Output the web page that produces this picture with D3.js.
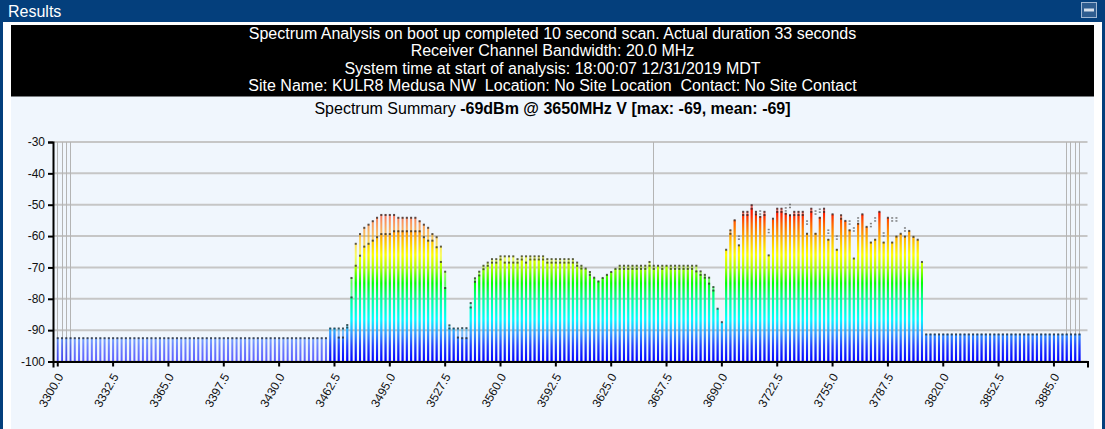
<!DOCTYPE html>
<html><head><meta charset="utf-8">
<script src="https://cdn.jsdelivr.net/npm/d3@7/dist/d3.min.js"></script>
<style>
html,body{margin:0;padding:0;background:#043f7c;}
svg{display:block;font-family:"Liberation Sans",Arial,Helvetica,sans-serif;}
</style>
</head><body>
<svg id="c" width="1105" height="429"></svg>
<script>
// ---------------- DATA ----------------
const freqs = [
 3300,3302.5,3305,3307.5,3310,3312.5,3315,3317.5,3320,3322.5,
 3325,3327.5,3330,3332.5,3335,3337.5,3340,3342.5,3345,3347.5,
 3350,3352.5,3355,3357.5,3360,3362.5,3365,3367.5,3370,3372.5,
 3375,3377.5,3380,3382.5,3385,3387.5,3390,3392.5,3395,3397.5,
 3400,3402.5,3405,3407.5,3410,3412.5,3415,3417.5,3420,3422.5,
 3425,3427.5,3430,3432.5,3435,3437.5,3440,3442.5,3445,3447.5,
 3450,3452.5,3455,3457.5,
 3460,3462.5,3465,3467.5,3470,3472.5,3475,3477.5,3480,3482.5,
 3485,3487.5,3490,3492.5,3495,3497.5,3500,3502.5,3505,3507.5,
 3510,3512.5,3515,3517.5,3520,3522.5,3525,3527.5,3530,3532.5,
 3535,3537.5,3540,3542.5,3545,3547.5,3550,3552.5,3555,3557.5,
 3560,3562.5,3565,3567.5,3570,3572.5,3575,3577.5,3580,3582.5,
 3585,3587.5,3590,3592.5,3595,3597.5,3600,3602.5,3605,3607.5,
 3610,3612.5,3615,3617.5,3620,3622.5,3625,3627.5,3630,3632.5,
 3635,3637.5,3640,3642.5,3645,3647.5,3650,3652.5,3655,3657.5,
 3660,3662.5,3665,3667.5,3670,3672.5,3675,3677.5,3680,3682.5,
 3685,3687.5,3690,3692.5,3695,3697.5,3700,3702.5,3705,3707.5,
 3710,3712.5,3715,3717.5,3720,3722.5,3725,3727.5,3730,3732.5,
 3735,3737.5,3740,3742.5,3745,3747.5,3750,3752.5,3755,3757.5,
 3760,3762.5,3765,3767.5,3770,3772.5,3775,3777.5,3780,3782.5,
 3785,3787.5,3790,3792.5,3795,3797.5,3800,3802.5,3805,3807.5,
 3810,3812.5,3815,3817.5,3820,3822.5,3825,3827.5,3830,3832.5,
 3835,3837.5,3840,3842.5,3845,3847.5,3850,3852.5,3855,3857.5,
 3860,3862.5,3865,3867.5,3870,3872.5,3875,3877.5,3880,3882.5,
 3885,3887.5,3890,3892.5,3895,3897.5,3900
];

// max-hold level per bin (dBm)
const maxVals = [
 -92.4,-92.4,-92.4,-92.4,-92.4,-92.4,-92.4,-92.4,-92.4,-92.4,
 -92.4,-92.4,-92.4,-92.4,-92.4,-92.4,-92.4,-92.4,-92.4,-92.4,
 -92.4,-92.4,-92.4,-92.4,-92.4,-92.4,-92.4,-92.4,-92.4,-92.4,
 -92.4,-92.4,-92.4,-92.4,-92.4,-92.4,-92.4,-92.4,-92.4,-92.4,
 -92.4,-92.4,-92.4,-92.4,-92.4,-92.4,-92.4,-92.4,-92.4,-92.4,
 -92.4,-92.4,-92.4,-92.4,-92.4,-92.4,-92.4,-92.4,-92.4,-92.4,
 -92.4,-92.4,-92.4,-92.4,
 -89.3,-89.3,-89.3,-89.3,-88.2,-73.2,-62.3,-59.2,-57.2,-56.2,
 -55.1,-54.0,-53.1,-53.1,-53.1,-53.1,-54.0,-54.0,-54.0,-54.0,
 -54.0,-55.1,-56.2,-57.2,-59.2,-60.2,-63.2,-71.2,-88.3,-89.3,
 -89.3,-89.2,-89.2,-81.2,-73.3,-71.2,-69.3,-68.3,-67.2,-67.2,
 -66.3,-66.3,-66.3,-66.3,-67.2,-66.3,-66.3,-66.3,-66.3,-66.3,
 -66.3,-67.2,-67.2,-67.2,-67.2,-67.2,-67.2,-67.2,-68.3,-69.3,
 -70.2,-71.3,-73.1,-74.3,-73.2,-72.2,-71.3,-70.3,-69.3,-69.3,
 -69.3,-69.3,-69.3,-69.3,-69.3,-68.1,-69.3,-69.3,-69.3,-69.3,
 -69.3,-69.3,-69.3,-69.3,-69.3,-69.3,-69.3,-71.1,-72.2,-73.1,
 -76.1,-83.0,-87.3,-64.2,-58.0,-54.8,-62.8,-52.1,-52.1,-50.0,
 -52.1,-53.7,-52.1,-66.0,-54.3,-51.1,-51.1,-52.7,-53.2,-52.1,
 -52.1,-52.1,-59.1,-51.1,-59.1,-54.0,-51.1,-61.0,-52.9,-64.2,
 -53.2,-55.0,-58.0,-67.0,-55.9,-52.9,-56.9,-61.9,-61.0,-52.1,
 -61.9,-54.0,-61.9,-60.0,-59.1,-60.0,-58.2,-60.1,-61.0,-68.1,
 -91.2,-91.2,-91.2,-91.2,-91.2,-91.2,-91.2,-91.2,-91.2,-91.2,
 -91.2,-91.2,-91.2,-91.2,-91.2,-91.2,-91.2,-91.2,-91.2,-91.2,
 -91.2,-91.2,-91.2,-91.2,-91.2,-91.2,-91.2,-91.2,-91.2,-91.2,
 -91.2,-91.2,-91.2,-91.2,-91.2,-91.2,-91.2
];

// current / mean level per bin (dBm); null = no current sweep
const meanVals = [
 null,null,null,null,null,null,null,null,null,null,
 null,null,null,null,null,null,null,null,null,null,
 null,null,null,null,null,null,null,null,null,null,
 null,null,null,null,null,null,null,null,null,null,
 null,null,null,null,null,null,null,null,null,null,
 null,null,null,null,null,null,null,null,null,null,
 null,null,null,null,
 -89.3,-89.3,-92.2,-92.2,-89.0,-79.4,-69.3,-66.1,-63.2,-62.3,
 -61.3,-60.2,-59.2,-59.2,-59.2,-58.3,-58.3,-58.3,-58.3,-58.3,
 -58.3,-58.3,-60.2,-61.3,-61.3,-63.4,-68.1,-76.4,-89.3,-89.3,
 -92.2,-92.4,-92.4,-82.6,-74.4,-72.4,-70.4,-69.3,-68.3,-68.3,
 -67.3,-68.3,-68.3,-68.3,-68.3,-67.3,-68.3,-67.3,-67.3,-67.3,
 -67.3,-68.3,-68.3,-68.3,-68.3,-68.3,-68.3,-68.3,-69.3,-70.2,
 -70.5,-72.2,-73.3,-74.5,-73.4,-72.4,-71.5,-70.5,-70.3,-70.3,
 -70.3,-70.3,-70.3,-70.3,-70.3,-69.3,-70.3,-69.5,-70.3,-69.5,
 -70.3,-70.3,-70.3,-70.3,-70.3,-70.3,-71.1,-72.2,-73.1,-75.0,
 -77.2,-83.2,-87.6,-64.4,-59.1,-55.0,-62.8,-53.1,-53.1,-51.1,
 -52.9,-53.7,-53.1,-66.0,-54.8,-52.1,-52.1,-52.7,-53.2,-53.1,
 -53.1,-53.1,-59.1,-52.1,-59.1,-54.0,-52.1,-61.0,-53.2,-64.2,
 -54.3,-55.3,-58.0,-67.0,-55.9,-53.2,-57.2,-61.9,-61.0,-52.4,
 -61.9,-54.3,-61.9,-60.0,-59.4,-60.0,-58.5,-60.4,-61.3,-68.4,
 -91.2,-91.2,-91.2,-91.2,-91.2,-91.2,-91.2,-91.2,-91.2,-91.2,
 -91.2,-91.2,-91.2,-91.2,-91.2,-91.2,-91.2,-91.2,-91.2,-91.2,
 -91.2,-91.2,-91.2,-91.2,-91.2,-91.2,-91.2,-91.2,-91.2,-91.2,
 -91.2,-91.2,-91.2,-91.2,-91.2,-91.2,-91.2
];

// isolated peak markers (grey) above the current bars
const peakFreqs  = [3700,3712.5,3717.5,3727.5,3730,3740,3745,3747.5,3752.5,3757.5,
                    3765,3767.5,3770,3777.5,3780,3785,3790,3792.5,3797.5];
const peakLevels = [-60.1,-52.1,-58.0,-51.1,-50.0,-55.3,-52.1,-51.5,-58.2,-60.1,
                    -55.3,-57.5,-54.3,-56.1,-54.3,-59.1,-54.3,-54.3,-57.5];

const yTicks = [-30,-40,-50,-60,-70,-80,-90,-100];
const xTicks = [3300,3332.5,3365,3397.5,3430,3462.5,3495,3527.5,3560,3592.5,
                3625,3657.5,3690,3722.5,3755,3787.5,3820,3852.5,3885];
const markerFreqs = [3300,3302.5,3305,3307.5,3650,3892.5,3895,3897.5,3900];
const headerLines = [
 "Spectrum Analysis on boot up completed 10 second scan. Actual duration 33 seconds",
 "Receiver Channel Bandwidth: 20.0 MHz",
 "System time at start of analysis: 18:00:07 12/31/2019 MDT",
 "Site Name: KULR8 Medusa NW  Location: No Site Location  Contact: No Site Contact"
];
const summaryLabel = "Spectrum Summary ";
const summaryValue = "-69dBm @ 3650MHz V [max: -69, mean: -69]";
const windowTitle = "Results";

// ---------------- DRAW ----------------
const svg = d3.select("#c");
const W = 1105, H = 429;

// window frame
svg.append("rect").attr("x",0).attr("y",0).attr("width",W).attr("height",H).attr("fill","#043f7c");
svg.append("rect").attr("x",3).attr("y",22).attr("width",1099).attr("height",H-22).attr("fill","#ffffff");
svg.append("rect").attr("x",11).attr("y",96).attr("width",1083).attr("height",H-96).attr("fill","#f0f6fd");
svg.append("text").attr("x",8).attr("y",17).attr("fill","#fff").attr("font-size",16).text(windowTitle);
// minimize button
svg.append("rect").attr("x",1081.5).attr("y",2.5).attr("width",15).attr("height",15)
  .attr("fill","#2f5d90").attr("stroke","#9fb6d3").attr("stroke-width",1);
svg.append("rect").attr("x",1084).attr("y",8.5).attr("width",10).attr("height",3).attr("fill","#d6e0ec");

// header black box
svg.append("rect").attr("x",11).attr("y",25).attr("width",1083).attr("height",71.5).attr("fill","#000");
svg.append("g").selectAll("text").data(headerLines).join("text")
  .attr("x",552.5).attr("y",(d,i)=>38.5+i*17.5).attr("text-anchor","middle")
  .style("white-space","pre")
  .attr("fill","#fff").attr("font-size",16).text(d=>d);

const sum = svg.append("text").attr("x",552.5).attr("y",113.5).attr("text-anchor","middle")
  .attr("fill","#000").attr("font-size",16);
sum.append("tspan").style("white-space","pre").text(summaryLabel);
sum.append("tspan").attr("font-weight","bold").text(summaryValue);

// scales
const x = d3.scaleLinear().domain([3297.5,3905]).range([53,1087.5]);
const y = d3.scaleLinear().domain([-100,-30]).range([361.5,142]);

// gradient tied to absolute dBm level
const defs = svg.append("defs");
const grad = defs.append("linearGradient").attr("id","spec")
  .attr("gradientUnits","userSpaceOnUse").attr("x1",0).attr("x2",0)
  .attr("y1",y(-100)).attr("y2",y(-50));
[[0,"#0000ff"],[0.10,"#2040ff"],[0.18,"#3399ff"],[0.27,"#00ffff"],[0.40,"#00ff99"],
 [0.50,"#00ff00"],[0.60,"#b0ff00"],[0.68,"#ffff00"],[0.76,"#ffc800"],[0.82,"#ff9600"],
 [0.88,"#ff6400"],[0.94,"#ff2000"],[1,"#ff0000"]]
 .forEach(s=>grad.append("stop").attr("offset",s[0]).attr("stop-color",s[1]));

// horizontal gridlines
svg.append("g").selectAll("line").data(yTicks).join("line")
  .attr("x1",x.range()[0]).attr("x2",x.range()[1])
  .attr("y1",d=>y(d)).attr("y2",d=>y(d))
  .attr("stroke","#c6c6c6").attr("stroke-width",2);

// vertical marker lines
svg.append("g").selectAll("line").data(markerFreqs).join("line")
  .attr("x1",d=>Math.round(x(d))+0.5).attr("x2",d=>Math.round(x(d))+0.5)
  .attr("y1",y(-30)).attr("y2",y(-100))
  .attr("stroke","#b4b4b4").attr("stroke-width",1);

const bins = freqs.map((f,i)=>({f, max:maxVals[i], mean:meanVals[i]}));
const peaks = peakFreqs.map((f,i)=>({f, v:peakLevels[i]}));
const bw = 2;
const bx = f => x(f)-bw/2+0.5;

// max-hold bars (translucent)
svg.append("g").attr("fill","url(#spec)").attr("fill-opacity",0.62)
  .selectAll("rect").data(bins).join("rect")
  .attr("x",d=>bx(d.f)).attr("width",bw)
  .attr("y",d=>y(d.max)).attr("height",d=>y(-100)-y(d.max));

// current bars (opaque)
svg.append("g").attr("fill","url(#spec)")
  .selectAll("rect").data(bins.filter(d=>d.mean!==null)).join("rect")
  .attr("x",d=>bx(d.f)).attr("width",bw)
  .attr("y",d=>y(d.mean)).attr("height",d=>y(-100)-y(d.mean));

// level markers
svg.append("g").attr("fill","#2a2a2a").attr("fill-opacity",0.75)
  .selectAll("rect").data(bins).join("rect")
  .attr("x",d=>bx(d.f)).attr("width",bw)
  .attr("y",d=>y(d.max)-0.5).attr("height",2);
svg.append("g").attr("fill","#2a2a2a").attr("fill-opacity",0.75)
  .selectAll("rect").data(bins.filter(d=>d.mean!==null && d.mean<d.max-0.5)).join("rect")
  .attr("x",d=>bx(d.f)).attr("width",bw)
  .attr("y",d=>y(d.mean)-0.5).attr("height",2);

// peak markers (pairs of grey dots)
const pk = svg.append("g").attr("fill","#6a6a6a").attr("fill-opacity",0.85);
pk.selectAll("rect.a").data(peaks).join("rect").attr("class","a")
  .attr("x",d=>bx(d.f)).attr("width",bw).attr("y",d=>y(d.v)-1).attr("height",1.5);
pk.selectAll("rect.b").data(peaks).join("rect").attr("class","b")
  .attr("x",d=>bx(d.f)).attr("width",bw).attr("y",d=>y(d.v)+2).attr("height",1.5);

// axes
const yAxis = svg.append("g").attr("transform",`translate(${x.range()[0]},0)`)
  .call(d3.axisLeft(y).tickValues(yTicks).tickSize(5).tickSizeOuter(5).tickFormat(d=>String(d)));
const xAxis = svg.append("g").attr("transform",`translate(0,${y(-100)})`)
  .call(d3.axisBottom(x).tickValues(xTicks).tickSize(5).tickSizeOuter(6).tickFormat(d3.format(".1f")));
[yAxis,xAxis].forEach(a=>{
  a.selectAll("path.domain").attr("stroke","#000").attr("stroke-width",2);
  a.selectAll(".tick line").attr("stroke","#000").attr("stroke-width",2);
  a.selectAll("text").attr("fill","#111").attr("font-size",12)
    .attr("font-family","'Liberation Sans',Arial,sans-serif");
});
xAxis.selectAll(".tick text")
  .attr("x",null).attr("y",null).attr("dy",null)
  .attr("text-anchor","end")
  .attr("transform","translate(6,15) rotate(-60)");
</script>
</body></html>
